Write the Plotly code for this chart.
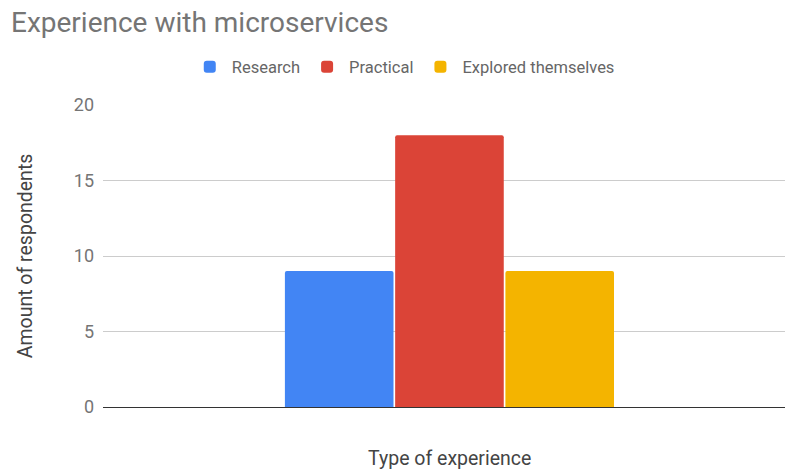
import plotly.graph_objects as go

# Survey responses: experience with microservices
categories = [""]
series_names = ["Research", "Practical", "Explored themselves"]
series_values = [[9], [18], [9]]
series_colors = ["#4285F4", "#DB4437", "#F4B400"]
y_ticks = [0, 5, 10, 15, 20]

fig = go.Figure()
for name, vals, col in zip(series_names, series_values, series_colors):
    fig.add_trace(go.Bar(
        x=categories, y=vals, name=name,
        marker=dict(color=col, line=dict(width=0)),
    ))

fig.update_layout(
    width=785, height=470,
    margin=dict(l=103, r=0, t=105, b=63),
    paper_bgcolor="white", plot_bgcolor="white",
    font=dict(family="Roboto", color="#757575"),
    barmode="group", bargap=0.515, bargroupgap=0.015,
    barcornerradius=2,
    title=dict(text="Experience with microservices", x=0.014, xanchor="left",
               y=0.953, yanchor="middle",
               font=dict(size=28, color="#757575", family="Roboto")),
    legend=dict(orientation="h", x=0.441, xanchor="center", y=1.126, yanchor="middle",
                font=dict(size=16.5, color="#666666"), itemwidth=34,
                traceorder="normal"),
    showlegend=True,
    annotations=[dict(text="Type of experience", xref="x domain", yref="paper",
                      x=0.508, y=-0.169, xanchor="center", yanchor="middle",
                      showarrow=False, font=dict(size=19.5, color="#444444"))],
)
fig.update_xaxes(
    range=[-0.508, 0.492], showgrid=False, showticklabels=False, ticks="",
    showline=False, zeroline=False,
)
fig.update_yaxes(
    range=[0, 20], tickvals=y_ticks, showgrid=True, gridcolor="#cccccc", gridwidth=1,
    zeroline=True, zerolinecolor="#333333", zerolinewidth=1,
    tickfont=dict(size=18, color="#757575"), ticks="", ticklabelstandoff=8,
    title=dict(text="Amount of respondents", font=dict(size=19.5, color="#444444"), standoff=35),
)

fig.write_html("out.html")
